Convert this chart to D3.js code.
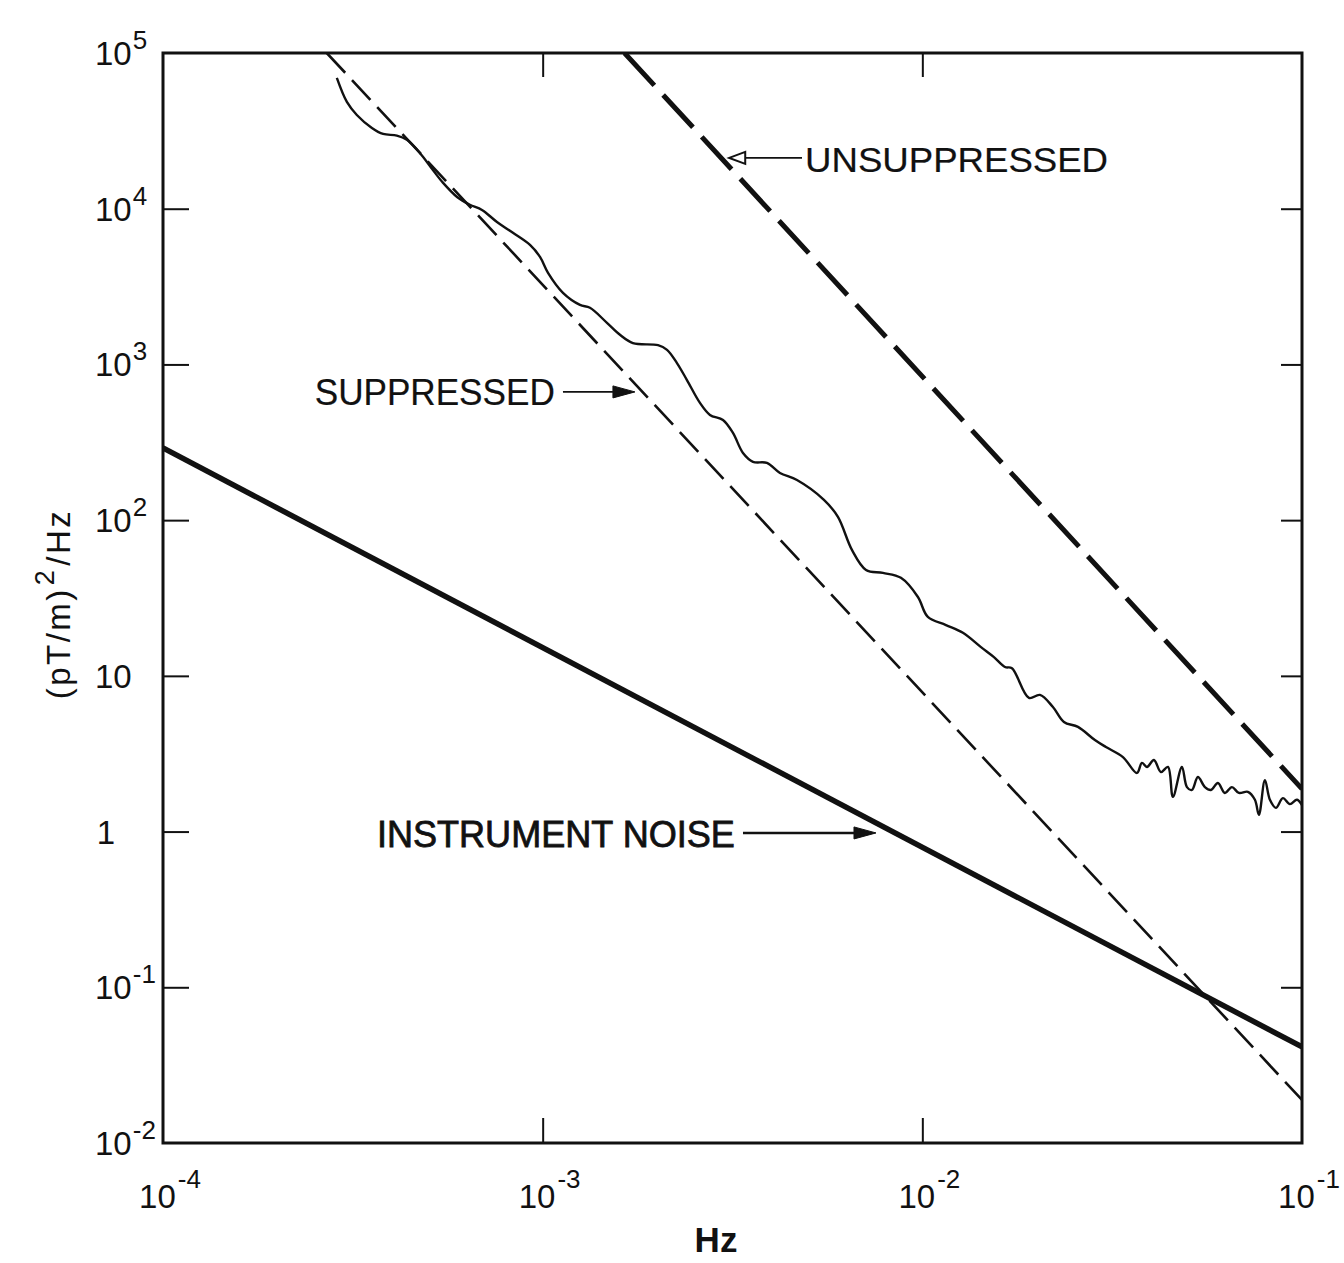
<!DOCTYPE html>
<html>
<head>
<meta charset="utf-8">
<script src="https://cdn.jsdelivr.net/npm/d3@7"></script>
<style>
  body { margin: 0; background: #fff; }
  svg text { font-family: "Liberation Sans", Arial, sans-serif; fill: #111; }
</style>
</head>
<body>
<svg id="chart" width="1344" height="1263"></svg>
<script>
// ---- axis ticks ----
const xTickValues = [1e-4, 1e-3, 1e-2, 1e-1];
const xTickExponents = ["-4", "-3", "-2", "-1"];
const yTickValues = [1e-2, 1e-1, 1, 10, 100, 1e3, 1e4, 1e5];
const yTickBases = ["10", "10", "1", "10", "10", "10", "10", "10"];
const yTickExponents = ["-2", "-1", "", "", "2", "3", "4", "5"];

// ---- measured gradient spectrum, suppressed (Hz, (pT/m)^2/Hz) ----
const measuredFreq = [
  2.87e-4, 3.05e-4, 3.24e-4, 3.55e-4, 3.80e-4, 4.13e-4, 4.39e-4, 4.75e-4, 5.14e-4, 5.46e-4,
  5.95e-4, 6.43e-4, 6.92e-4, 7.58e-4, 8.35e-4, 9.26e-4, 9.84e-4, 1.033e-3, 1.131e-3, 1.254e-3,
  1.332e-3, 1.477e-3, 1.598e-3, 1.729e-3, 2.013e-3, 2.126e-3, 2.258e-3, 2.399e-3, 2.596e-3, 2.758e-3,
  2.985e-3, 3.171e-3, 3.370e-3, 3.580e-3, 3.897e-3, 4.217e-3, 4.675e-3, 5.506e-3, 5.994e-3, 6.525e-3,
  7.107e-3, 7.876e-3, 8.782e-3, 9.736e-3, 1.034e-2, 1.154e-2, 1.279e-2, 1.427e-2, 1.544e-2, 1.651e-2,
  1.722e-2, 1.909e-2, 2.040e-2, 2.208e-2, 2.360e-2, 2.570e-2, 2.848e-2, 3.045e-2, 3.376e-2, 3.675e-2,
  3.787e-2, 3.905e-2, 4.074e-2, 4.250e-2, 4.435e-2, 4.571e-2, 4.827e-2, 4.977e-2, 5.129e-2, 5.319e-2,
  5.550e-2, 5.756e-2, 6.005e-2, 6.265e-2, 6.537e-2, 6.820e-2, 7.202e-2, 7.516e-2, 7.700e-2, 7.986e-2,
  8.232e-2, 8.537e-2, 8.905e-2, 9.292e-2, 9.696e-2, 0.1
];
const measuredPsd = [
  6.92e4, 4.85e4, 4.00e4, 3.30e4, 3.02e4, 2.95e4, 2.77e4, 2.28e4, 1.77e4, 1.47e4,
  1.19e4, 1.06e4, 9.82e3, 8.22e3, 7.00e3, 5.85e3, 4.90e3, 3.87e3, 2.88e3, 2.41e3,
  2.31e3, 1.85e3, 1.55e3, 1.37e3, 1.33e3, 1.24e3, 1.02e3, 794, 566, 474,
  440, 363, 270, 237, 233, 201, 181, 135, 105, 64.4,
  47.9, 45.8, 42.6, 32.1, 23.9, 21.2, 18.9, 15.3, 13.2, 11.4,
  11.2, 7.21, 7.54, 6.31, 5.06, 4.70, 3.87, 3.49, 3.01, 2.38,
  2.76, 2.60, 2.88, 2.41, 2.60, 1.67, 2.60, 1.93, 1.85, 2.24,
  1.93, 1.85, 2.05, 1.77, 1.93, 1.77, 1.80, 1.60, 1.28, 2.14,
  1.60, 1.42, 1.64, 1.50, 1.60, 1.48
];

// ---- power-law model lines (end points) ----
const unsuppressedFreq = [1.643e-3, 0.1];
const unsuppressedPsd = [1e5, 1.88];
const suppressedFreq = [2.70e-4, 0.1];
const suppressedPsd = [1e5, 0.0189];
const noiseFreq = [1e-4, 0.1];
const noisePsd = [291, 0.0414];

// ---- annotations: text anchor and arrow tail/tip, in data units ----
const annLabels = ["UNSUPPRESSED", "SUPPRESSED", "INSTRUMENT NOISE"];
const annTextFreq = [4.91e-3, 2.51e-4, 3.66e-4];
const annTextPsd = [1.72e4, 550, 0.796];
const annArrowPsd = [2.12e4, 666, 0.98];
const annTailFreq = [4.82e-3, 1.131e-3, 3.37e-3];
const annTipFreq = [3.10e-3, 1.75e-3, 7.55e-3];

// ---- layout ----
const svg = d3.select("#chart");
const plot = { left: 163, right: 1302, top: 53, bottom: 1143 };
const ink = "#111";

const x = d3.scaleLog().domain([1e-4, 1e-1]).range([plot.left, plot.right]);
const y = d3.scaleLog().domain([1e-2, 1e5]).range([plot.bottom, plot.top]);

svg.append("defs").append("clipPath").attr("id", "plotClip")
  .append("rect")
  .attr("x", plot.left).attr("y", plot.top)
  .attr("width", plot.right - plot.left).attr("height", plot.bottom - plot.top);

// inward ticks on all four sides
function styleAxis(g) {
  g.select(".domain").remove();
  g.selectAll(".tick line").attr("stroke", ink).attr("stroke-width", 2);
  g.selectAll(".tick text").remove();
}
const innerY = yTickValues.slice(1, -1);
const innerX = xTickValues.slice(1, -1);
svg.append("g").attr("transform", `translate(${plot.left},0)`)
  .call(d3.axisLeft(y).tickValues(innerY).tickSize(-26)).call(styleAxis);
svg.append("g").attr("transform", `translate(${plot.right},0)`)
  .call(d3.axisRight(y).tickValues(innerY).tickSize(-21)).call(styleAxis);
svg.append("g").attr("transform", `translate(0,${plot.bottom})`)
  .call(d3.axisBottom(x).tickValues(innerX).tickSize(-25)).call(styleAxis);
svg.append("g").attr("transform", `translate(0,${plot.top})`)
  .call(d3.axisTop(x).tickValues(innerX).tickSize(-24)).call(styleAxis);

// frame
svg.append("rect")
  .attr("x", plot.left).attr("y", plot.top)
  .attr("width", plot.right - plot.left).attr("height", plot.bottom - plot.top)
  .attr("fill", "none").attr("stroke", ink).attr("stroke-width", 3);

// y tick labels
yTickValues.forEach((v, i) => {
  const t = svg.append("text")
    .attr("y", y(v) + 12)
    .attr("font-size", 33);
  if (yTickBases[i] === "1") {
    t.attr("x", 106).attr("text-anchor", "middle").text("1");
  } else {
    t.attr("x", 95).attr("text-anchor", "start");
    t.append("tspan").text(yTickBases[i]);
    if (yTickExponents[i]) {
      t.append("tspan").attr("font-size", 26).attr("dy", -16).attr("dx", 1).text(yTickExponents[i]);
    }
  }
});

// x tick labels
xTickValues.forEach((v, i) => {
  const t = svg.append("text")
    .attr("x", x(v) + 7)
    .attr("y", 1208)
    .attr("text-anchor", "middle")
    .attr("font-size", 33);
  t.append("tspan").text("10");
  t.append("tspan").attr("font-size", 26).attr("dy", -20).attr("dx", 2).text(xTickExponents[i]);
});

// axis titles
svg.append("text")
  .attr("x", 716).attr("y", 1252)
  .attr("text-anchor", "middle")
  .attr("font-size", 35).attr("font-weight", "bold")
  .text("Hz");

const yTitle = svg.append("text")
  .attr("transform", "translate(70,604) rotate(-90)")
  .attr("text-anchor", "middle")
  .attr("font-size", 33)
  .attr("letter-spacing", 2.5);
yTitle.append("tspan").text("(pT/m)");
yTitle.append("tspan").attr("font-size", 27).attr("dy", -16).attr("dx", 2).text("2");
yTitle.append("tspan").attr("dy", 16).attr("dx", 2).text("/Hz");

// series
const lineGen = d3.line().x(d => x(d[0])).y(d => y(d[1]));
const series = svg.append("g").attr("clip-path", "url(#plotClip)");

series.append("path")
  .datum(d3.zip(noiseFreq, noisePsd))
  .attr("d", lineGen)
  .attr("fill", "none").attr("stroke", ink).attr("stroke-width", 5.5);

series.append("path")
  .datum(d3.zip(suppressedFreq, suppressedPsd))
  .attr("d", lineGen)
  .attr("fill", "none").attr("stroke", ink).attr("stroke-width", 2.6)
  .attr("stroke-dasharray", "27,10");

series.append("path")
  .datum(d3.zip(unsuppressedFreq, unsuppressedPsd))
  .attr("d", lineGen)
  .attr("fill", "none").attr("stroke", ink).attr("stroke-width", 5)
  .attr("stroke-dasharray", "44,13");

series.append("path")
  .datum(d3.zip(measuredFreq, measuredPsd))
  .attr("d", d3.line().x(d => x(d[0])).y(d => y(d[1])).curve(d3.curveCatmullRom.alpha(0.5)))
  .attr("fill", "none").attr("stroke", ink).attr("stroke-width", 2.4)
  .attr("stroke-linejoin", "round");

// annotations
const annSize = [35, 36, 37];
const annWidth = [303, 240, 358];
annLabels.forEach((label, i) => {
  svg.append("text")
    .attr("x", x(annTextFreq[i])).attr("y", y(annTextPsd[i]))
    .attr("font-size", annSize[i])
    .attr("textLength", annWidth[i]).attr("lengthAdjust", "spacingAndGlyphs")
    .attr("stroke", ink).attr("stroke-width", i === 2 ? 0.8 : 0.2)
    .text(label);

  const ay = y(annArrowPsd[i]);
  const tailX = x(annTailFreq[i]);
  const tipX = x(annTipFreq[i]);
  const dir = tipX > tailX ? 1 : -1;
  const headLen = i === 0 ? 16 : 22;
  const headHalf = 6;
  svg.append("line")
    .attr("x1", tailX).attr("y1", ay)
    .attr("x2", tipX - dir * headLen).attr("y2", ay)
    .attr("stroke", ink).attr("stroke-width", i === 2 ? 2.5 : 1.6);
  svg.append("path")
    .attr("d", `M${tipX},${ay} L${tipX - dir * headLen},${ay - headHalf} L${tipX - dir * headLen},${ay + headHalf} Z`)
    .attr("fill", i === 0 ? "#fff" : ink)
    .attr("stroke", ink).attr("stroke-width", i === 0 ? 2 : 1);
});
</script>
</body>
</html>
